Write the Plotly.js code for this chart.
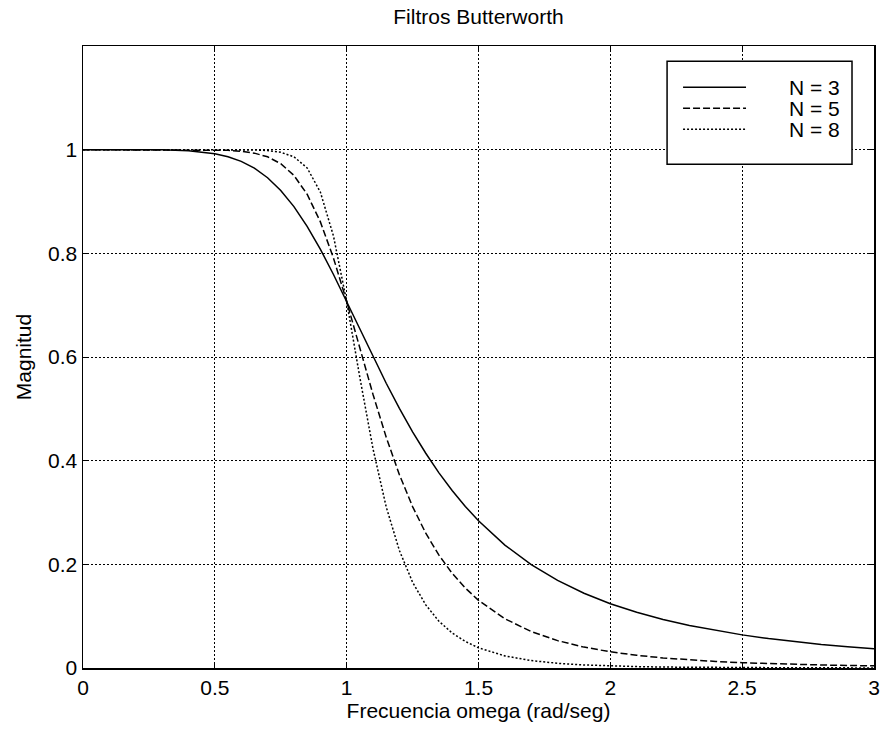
<!DOCTYPE html>
<html>
<head>
<meta charset="utf-8">
<script src="https://cdn.plot.ly/plotly-3.0.1.min.js"></script>
<style>
  html, body { margin: 0; padding: 0; background: #fff; }
  #chart { width: 885px; height: 738px; }
</style>
</head>
<body>
<div id="chart"></div>
<script>
// Frecuencia normalizada (rad/seg); muestreo más fino en la zona de transición
const omega = [0.0, 0.1, 0.2, 0.3, 0.4, 0.5, 0.55, 0.6, 0.65, 0.7, 0.75, 0.8, 0.85, 0.9, 0.95,
               1.0, 1.05, 1.1, 1.15, 1.2, 1.25, 1.3, 1.35, 1.4, 1.45, 1.5, 1.6, 1.7, 1.8, 1.9,
               2.0, 2.1, 2.2, 2.3, 2.4, 2.5, 2.6, 2.7, 2.8, 2.9, 3.0];

// Magnitud de la respuesta en frecuencia para cada orden
const magN3 = [1.0000, 1.0000, 1.0000, 0.9996, 0.9980, 0.9923, 0.9864, 0.9775, 0.9643, 0.9459, 0.9214, 0.8901, 0.8521, 0.8081, 0.7592,
               0.7071, 0.6537, 0.6007, 0.5494, 0.5009, 0.4557, 0.4143, 0.3765, 0.3424, 0.3117, 0.2841, 0.2372, 0.1995, 0.1690, 0.1443,
               0.1240, 0.1074, 0.0935, 0.0819, 0.0722, 0.0639, 0.0568, 0.0507, 0.0455, 0.0410, 0.0370];
const magN5 = [1.0000, 1.0000, 1.0000, 1.0000, 1.0000, 0.9995, 0.9987, 0.9970, 0.9933, 0.9862, 0.9730, 0.9503, 0.9140, 0.8611, 0.7909,
               0.7071, 0.6168, 0.5276, 0.4452, 0.3729, 0.3114, 0.2601, 0.2177, 0.1828, 0.1542, 0.1306, 0.0950, 0.0703, 0.0528, 0.0403,
               0.0312, 0.0245, 0.0194, 0.0155, 0.0126, 0.0102, 0.0084, 0.0070, 0.0058, 0.0049, 0.0041];
const magN8 = [1.0000, 1.0000, 1.0000, 1.0000, 1.0000, 1.0000, 1.0000, 0.9999, 0.9995, 0.9983, 0.9950, 0.9862, 0.9648, 0.9185, 0.8333,
               0.7071, 0.5604, 0.4227, 0.3107, 0.2266, 0.1655, 0.1217, 0.0902, 0.0676, 0.0512, 0.0390, 0.0233, 0.0143, 0.0091, 0.0059,
               0.0039, 0.0027, 0.0018, 0.0013, 0.0009, 0.0007, 0.0005, 0.0004, 0.0003, 0.0002, 0.0002];

const seriesNames = ['N = 3', 'N = 5', 'N = 8'];
const xTicks = [0, 0.5, 1, 1.5, 2, 2.5, 3];
const xTickText = ['0', '0.5', '1', '1.5', '2', '2.5', '3'];
const yTicks = [0, 0.2, 0.4, 0.6, 0.8, 1];
const yTickText = ['0', '0.2', '0.4', '0.6', '0.8', '1'];

const FONT = '"Liberation Sans", Arial, Helvetica, sans-serif';
const FS = 21;
const LINE_W = 1.5;

// Estilos de línea por orden del filtro
const dashes = ['solid', '7px,3px', '2px,2px'];
const mags = [magN3, magN5, magN8];

const traces = mags.map((m, i) => ({
  x: omega,
  y: m,
  type: 'scatter',
  mode: 'lines',
  name: seriesNames[i],
  line: { color: '#000', width: LINE_W, dash: dashes[i] }
}));

const axisCommon = {
  showline: true,
  linecolor: '#000',
  linewidth: 1.5,
  mirror: 'ticks',
  ticks: 'inside',
  ticklen: 6,
  tickcolor: '#000',
  showgrid: true,
  gridcolor: '#000',
  gridwidth: 1,
  griddash: '2px,2px',
  zeroline: false,
  tickfont: { family: FONT, size: FS, color: '#000' }
};

// Leyenda dibujada dentro de un recuadro en coordenadas del papel
const legendBox = { x0: 0.7384, x1: 0.9722, y0: 0.8099, y1: 0.9754 };
const legendKeyX = [0.7586, 0.8382];
const legendTextX = 0.9595;
const legendRowY = [0.9336, 0.8999, 0.8662];

const shapes = [{
  type: 'rect', xref: 'paper', yref: 'paper',
  x0: legendBox.x0, x1: legendBox.x1, y0: legendBox.y0, y1: legendBox.y1,
  line: { color: '#000', width: 1.5 }, fillcolor: '#fff', layer: 'above'
}];
const annotations = [];
seriesNames.forEach((name, i) => {
  shapes.push({
    type: 'line', xref: 'paper', yref: 'paper',
    x0: legendKeyX[0], x1: legendKeyX[1], y0: legendRowY[i], y1: legendRowY[i],
    line: { color: '#000', width: LINE_W, dash: dashes[i] }, layer: 'above'
  });
  annotations.push({
    xref: 'paper', yref: 'paper', x: legendTextX, y: legendRowY[i],
    xanchor: 'right', yanchor: 'middle', showarrow: false,
    text: name, font: { family: FONT, size: FS, color: '#000' }
  });
});

const layout = {
  width: 885,
  height: 738,
  paper_bgcolor: '#fff',
  plot_bgcolor: '#fff',
  margin: { l: 83, r: 11, t: 46, b: 70 },
  title: {
    text: 'Filtros Butterworth',
    font: { family: FONT, size: FS, color: '#000' },
    xref: 'paper', x: 0.5, xanchor: 'center',
    y: 0.977, yanchor: 'middle'
  },
  xaxis: Object.assign({}, axisCommon, {
    range: [0, 3],
    tickmode: 'array', tickvals: xTicks, ticktext: xTickText,
    title: { text: 'Frecuencia omega (rad/seg)', font: { family: FONT, size: FS, color: '#000' }, standoff: 4 }
  }),
  yaxis: Object.assign({}, axisCommon, {
    range: [0, 1.2],
    tickmode: 'array', tickvals: yTicks, ticktext: yTickText,
    title: { text: 'Magnitud', font: { family: FONT, size: FS, color: '#000' }, standoff: 10 }
  }),
  showlegend: false,
  shapes: shapes,
  annotations: annotations
};

Plotly.newPlot('chart', traces, layout, { displayModeBar: false, staticPlot: true });
</script>
</body>
</html>
